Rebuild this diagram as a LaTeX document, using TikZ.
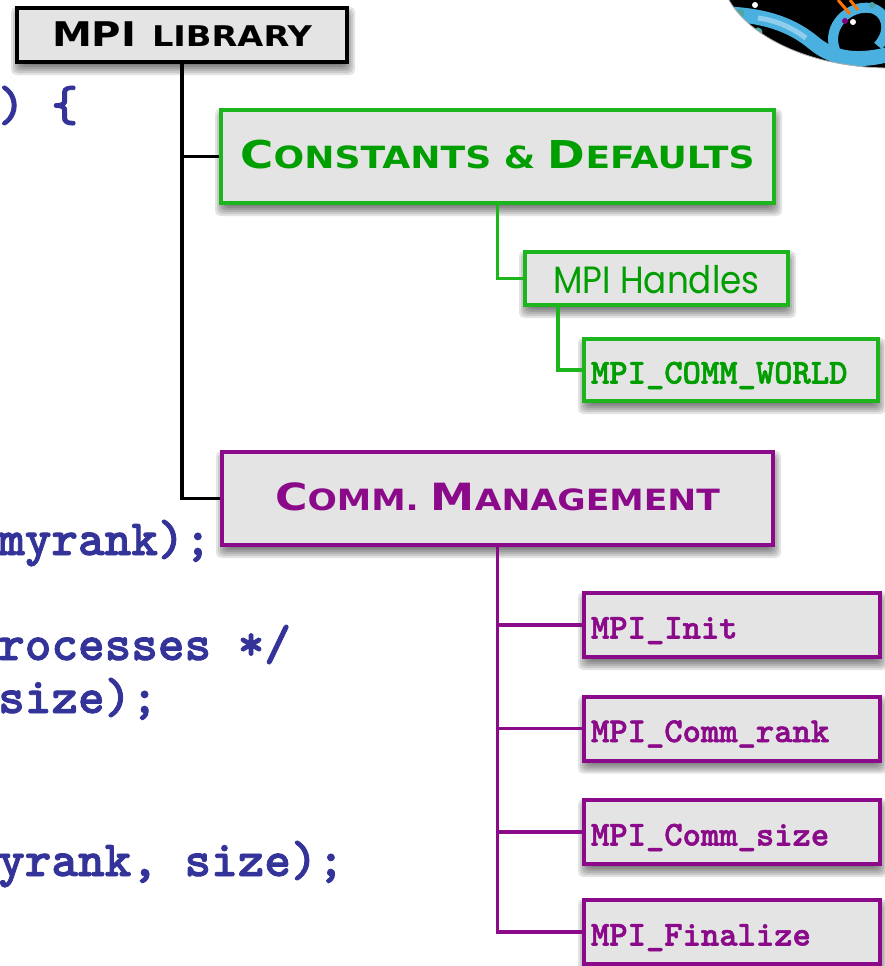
\documentclass[tikz,border=0pt]{standalone}
\usepackage{fontspec}
\newfontfamily\headfont{DejaVu Sans}[FakeStretch=1.18]
\newfontfamily\handfont{Poppins}[FakeStretch=0.9]
\newfontfamily\codefont{lmmonolt10-bold.otf}[FakeBold=1.6]
\usetikzlibrary{calc}
\definecolor{codeblue}{HTML}{333399}
\definecolor{boxfill}{HTML}{E4E4E4}
\definecolor{gtext}{HTML}{009E00}
\definecolor{gline}{HTML}{1DB51D}
\definecolor{purp}{HTML}{8A0A8A}
\definecolor{ribbon}{HTML}{4AB0E0}
\pgfdeclarelayer{background}
\pgfsetlayers{background,main}
% large capital followed by small capitals
\newcommand{\bigsmall}[4]{{\fontsize{#1}{#1}\selectfont #3}{\fontsize{#2}{#2}\selectfont #4}}
\tikzset{
  hbox/.style={draw, line width=4pt, fill=boxfill, inner sep=0pt, text depth=0pt},
  headtext/.style={font=\headfont\bfseries},
  monobox/.style={hbox, minimum height=64pt, text width=282pt, inner xsep=7pt,
    align=left, text height=27pt, draw=purp, text=purp,
    font=\codefont\fontsize{34.9}{36}\selectfont},
  codeline/.style={inner sep=0pt, anchor=base west, text=codeblue,
    font=\codefont\fontsize{50.7}{56}\selectfont},
  conn/.style={line width=3.5pt},
}
\begin{document}
\begin{tikzpicture}[x=1pt, y=-1pt]
\useasboundingbox (0,0) rectangle (885,966);

% molecule logo in the corner
\begin{scope}
  \clip (890,-32) ellipse [x radius=170pt, y radius=100pt];
  \fill[black] (890,-32) ellipse [x radius=170pt, y radius=100pt];
  \draw[ribbon, line width=15pt] (728,14) .. controls (770,16) and (795,27) .. (815,44)
     .. controls (835,60) and (860,62) .. (890,54);
  \draw[ribbon!45!white, line width=5pt, opacity=.7] (758,18) .. controls (780,21) and (795,30) .. (806,38);
  \draw[ribbon, line width=10pt] (835,50) .. controls (826,25) and (850,5) .. (870,8)
     .. controls (886,10) and (893,30) .. (878,46);
  \draw[orange!90!red, line width=3pt] (838,0) -- (850,14) (850,0) -- (858,10);
  \fill[teal!70!white] (740,13) circle (4.5pt) (758,32) circle (4.5pt) (872,5) circle (3pt);
  \fill[white] (755,5) circle (3pt) (747,27) circle (3pt) (853,22) circle (3pt);
  \fill[red!80!black] (762,46) circle (3pt);
  \fill[violet] (845,21) circle (3pt);
\end{scope}
\draw[gray!60, line width=0.8pt] (890,-32) ellipse [x radius=170pt, y radius=100pt];

% code fragments
\node[codeline] (c1) at (-2,121) {) \{};
\node[codeline] (c2) at (-2,555) {myrank);};
\node[codeline] (c3) at (-2,660) {rocesses */};
\node[codeline] (c4) at (-2,713) {size);};
\node[codeline] (c5) at (-2,876) {yrank, size);};

% tree boxes
\node[hbox, headtext, minimum width=330pt, minimum height=54pt, text height=24pt]
  (lib) at (182,35) {\bigsmall{34}{28.5}{MPI}{\hspace{4pt} LIBRARY}};
\node[hbox, headtext, draw=gline, text=gtext, minimum width=553pt, minimum height=93pt, text height=23pt]
  (const) at (497.5,156.5) {\bigsmall{38.4}{30.6}{C}{ONSTANTS \& }\bigsmall{38.4}{30.6}{D}{EFAULTS}};
\node[hbox, draw=gline, text=gtext, minimum width=263pt, minimum height=53pt, text height=29pt,
  font=\handfont\fontsize{38}{40}\selectfont]
  (handles) at (656.5,278.5) {MPI Handles};
\node[monobox, draw=gline, text=gtext, minimum height=62pt, text width=280pt, inner xsep=7pt]
  (world) at (731,370) {MPI\_COMM\_WORLD};
\node[hbox, headtext, draw=purp, text=purp, minimum width=551pt, minimum height=93pt, text height=23pt]
  (comm) at (497.5,498.5) {\bigsmall{37.5}{29.3}{C}{OMM. }\bigsmall{37.5}{29.3}{M}{ANAGEMENT}};
\node[monobox] (p1) at (732,625) {MPI\_Init};
\node[monobox] (p2) at (732,728.5) {MPI\_Comm\_rank};
\node[monobox] (p3) at (732,832) {MPI\_Comm\_size};
\node[monobox] (p4) at (732,932) {MPI\_Finalize};

\begin{pgfonlayer}{background}
  % soft shadows under the boxes
  \foreach \n in {lib,const,handles,world,comm,p1,p2,p3,p4}{
    \foreach \e in {-5,-3,-1,1,3,5}{
      \fill[black, opacity=0.11, rounded corners=5pt]
        ([shift={(-\e+1,-\e+6)}]\n.north west) rectangle ([shift={(\e+1,\e+6)}]\n.south east);
    }
  }
  % connectors
  \draw[conn, black] (lib.south) |- (comm.west);
  \draw[conn, black] (lib.south |- const.west) -- (const.west);
  \draw[conn, gline] (const.south) |- (handles.west);
  \coordinate (hfoot) at ($(handles.south west)+(35,0)$);
  \draw[conn, gline] (hfoot) |- (world.west);
  \draw[conn, purp] (comm.south) |- (p4.west);
  \foreach \k in {p1,p2,p3}{
    \draw[conn, purp] (comm.south |- \k.west) -- (\k.west);
  }
\end{pgfonlayer}
\end{tikzpicture}
\end{document}
